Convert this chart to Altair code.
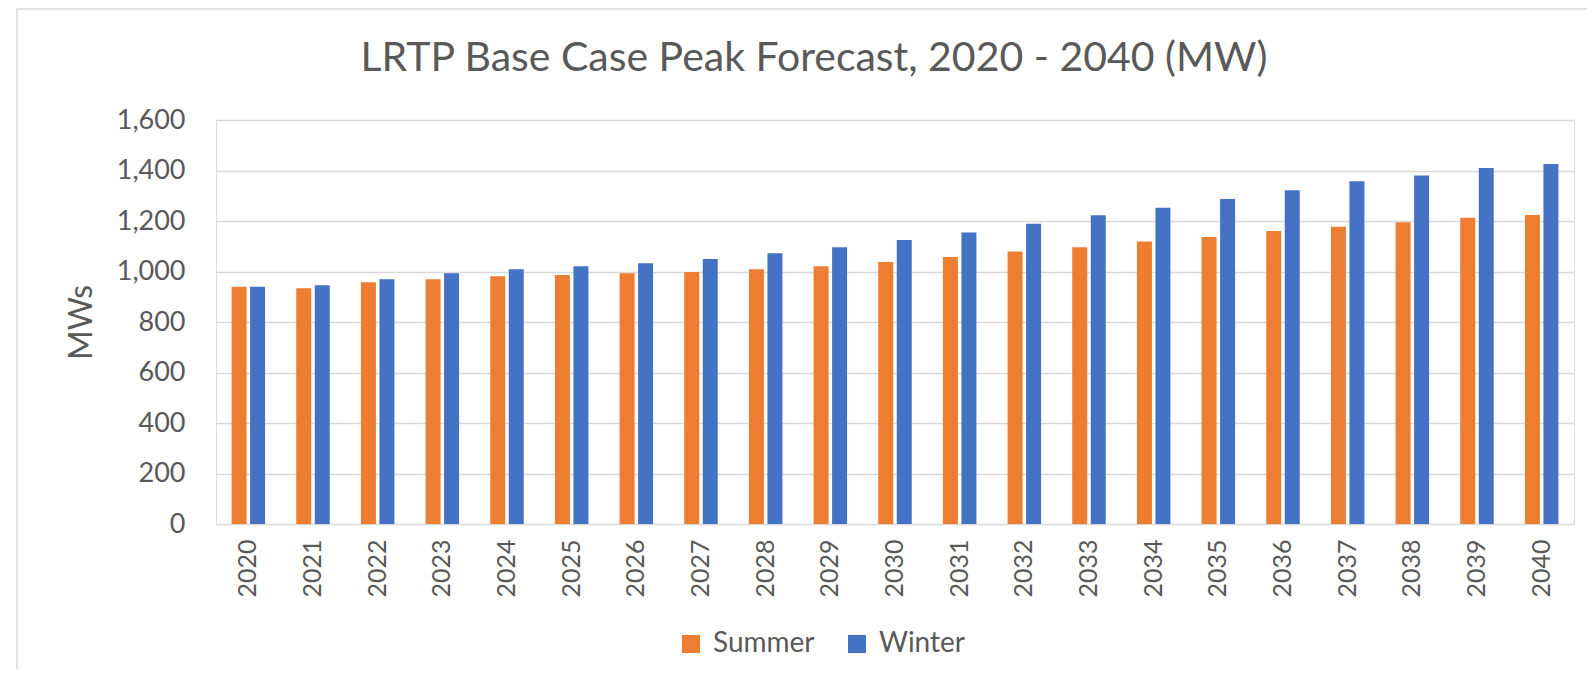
import altair as alt
import pandas as pd

years = [str(y) for y in range(2020, 2041)]
summer = [940, 934, 957, 969, 981, 986, 993, 998, 1009, 1021, 1038,
          1057, 1079, 1096, 1119, 1137, 1160, 1177, 1195, 1213, 1224]
winter = [940, 946, 969, 993, 1009, 1021, 1033, 1050, 1072, 1096, 1125,
          1154, 1189, 1223, 1252, 1287, 1322, 1357, 1380, 1410, 1426]
series = ["Summer", "Winter"]
colors = ["#ED7D31", "#4472C4"]
y_ticks = [0, 200, 400, 600, 800, 1000, 1200, 1400, 1600]

rows = []
for i, yr in enumerate(years):
    rows.append({"Year": yr, "Season": "Summer", "MW": summer[i]})
    rows.append({"Year": yr, "Season": "Winter", "MW": winter[i]})
df = pd.DataFrame(rows)

FONT = "Lato"
GREY = "#595959"
PLOT_W, PLOT_H = 1358, 404

frame = alt.Chart(pd.DataFrame({"a": [0]})).mark_rect(
    fillOpacity=0, stroke="#d9d9d9", strokeWidth=1.5
).encode(
    x=alt.value(-199), x2=alt.value(PLOT_W + 60),
    y=alt.value(-111), y2=alt.value(PLOT_H + 200)
)

bars = alt.Chart(df).mark_bar().encode(
    x=alt.X("Year:N", sort=years, title=None,
            scale=alt.Scale(paddingInner=0.482, paddingOuter=0.241),
            axis=alt.Axis(labelAngle=270, labelFont=FONT, labelFontSize=25,
                          labelColor=GREY, labelPadding=15, ticks=False,
                          domain=False, grid=False)),
    xOffset=alt.XOffset("Season:N", sort=series,
                        scale=alt.Scale(paddingInner=0.19, paddingOuter=0)),
    y=alt.Y("MW:Q", title="MWs",
            scale=alt.Scale(domain=[0, 1600], nice=False),
            axis=alt.Axis(values=y_ticks, format=",d", labelFont=FONT,
                          labelFontSize=27, labelColor=GREY, labelPadding=31,
                          ticks=False, domain=False, grid=True,
                          gridColor="#d9d9d9", gridWidth=1.5,
                          titleFont=FONT, titleFontSize=32,
                          titleFontWeight="normal", titleColor=GREY,
                          titlePadding=18)),
    color=alt.Color("Season:N", sort=series,
                    scale=alt.Scale(domain=series, range=colors),
                    legend=alt.Legend(title=None, orient="none",
                                      direction="horizontal",
                                      legendX=461, legendY=510,
                                      symbolType="square", symbolSize=324,
                                      symbolStrokeWidth=0,
                                      labelFont=FONT, labelFontSize=28,
                                      labelColor=GREY, labelOffset=8,
                                      columnPadding=28))
)

chart = alt.layer(frame, bars).properties(
    width=PLOT_W, height=PLOT_H,
    padding={"left": 208, "top": 112, "right": 13, "bottom": 145},
    autosize=alt.AutoSizeParams(type="none"),
    title=alt.TitleParams(
        "LRTP Base Case Peak Forecast, 2020 - 2040 (MW)",
        font=FONT, fontSize=41, fontWeight="normal", color=GREY,
        anchor="middle", frame="group", dx=-81, offset=-72
    )
).configure_view(stroke=None).configure(background="white")

chart.save("out.html", embed_options={"renderer": "svg", "actions": False})
